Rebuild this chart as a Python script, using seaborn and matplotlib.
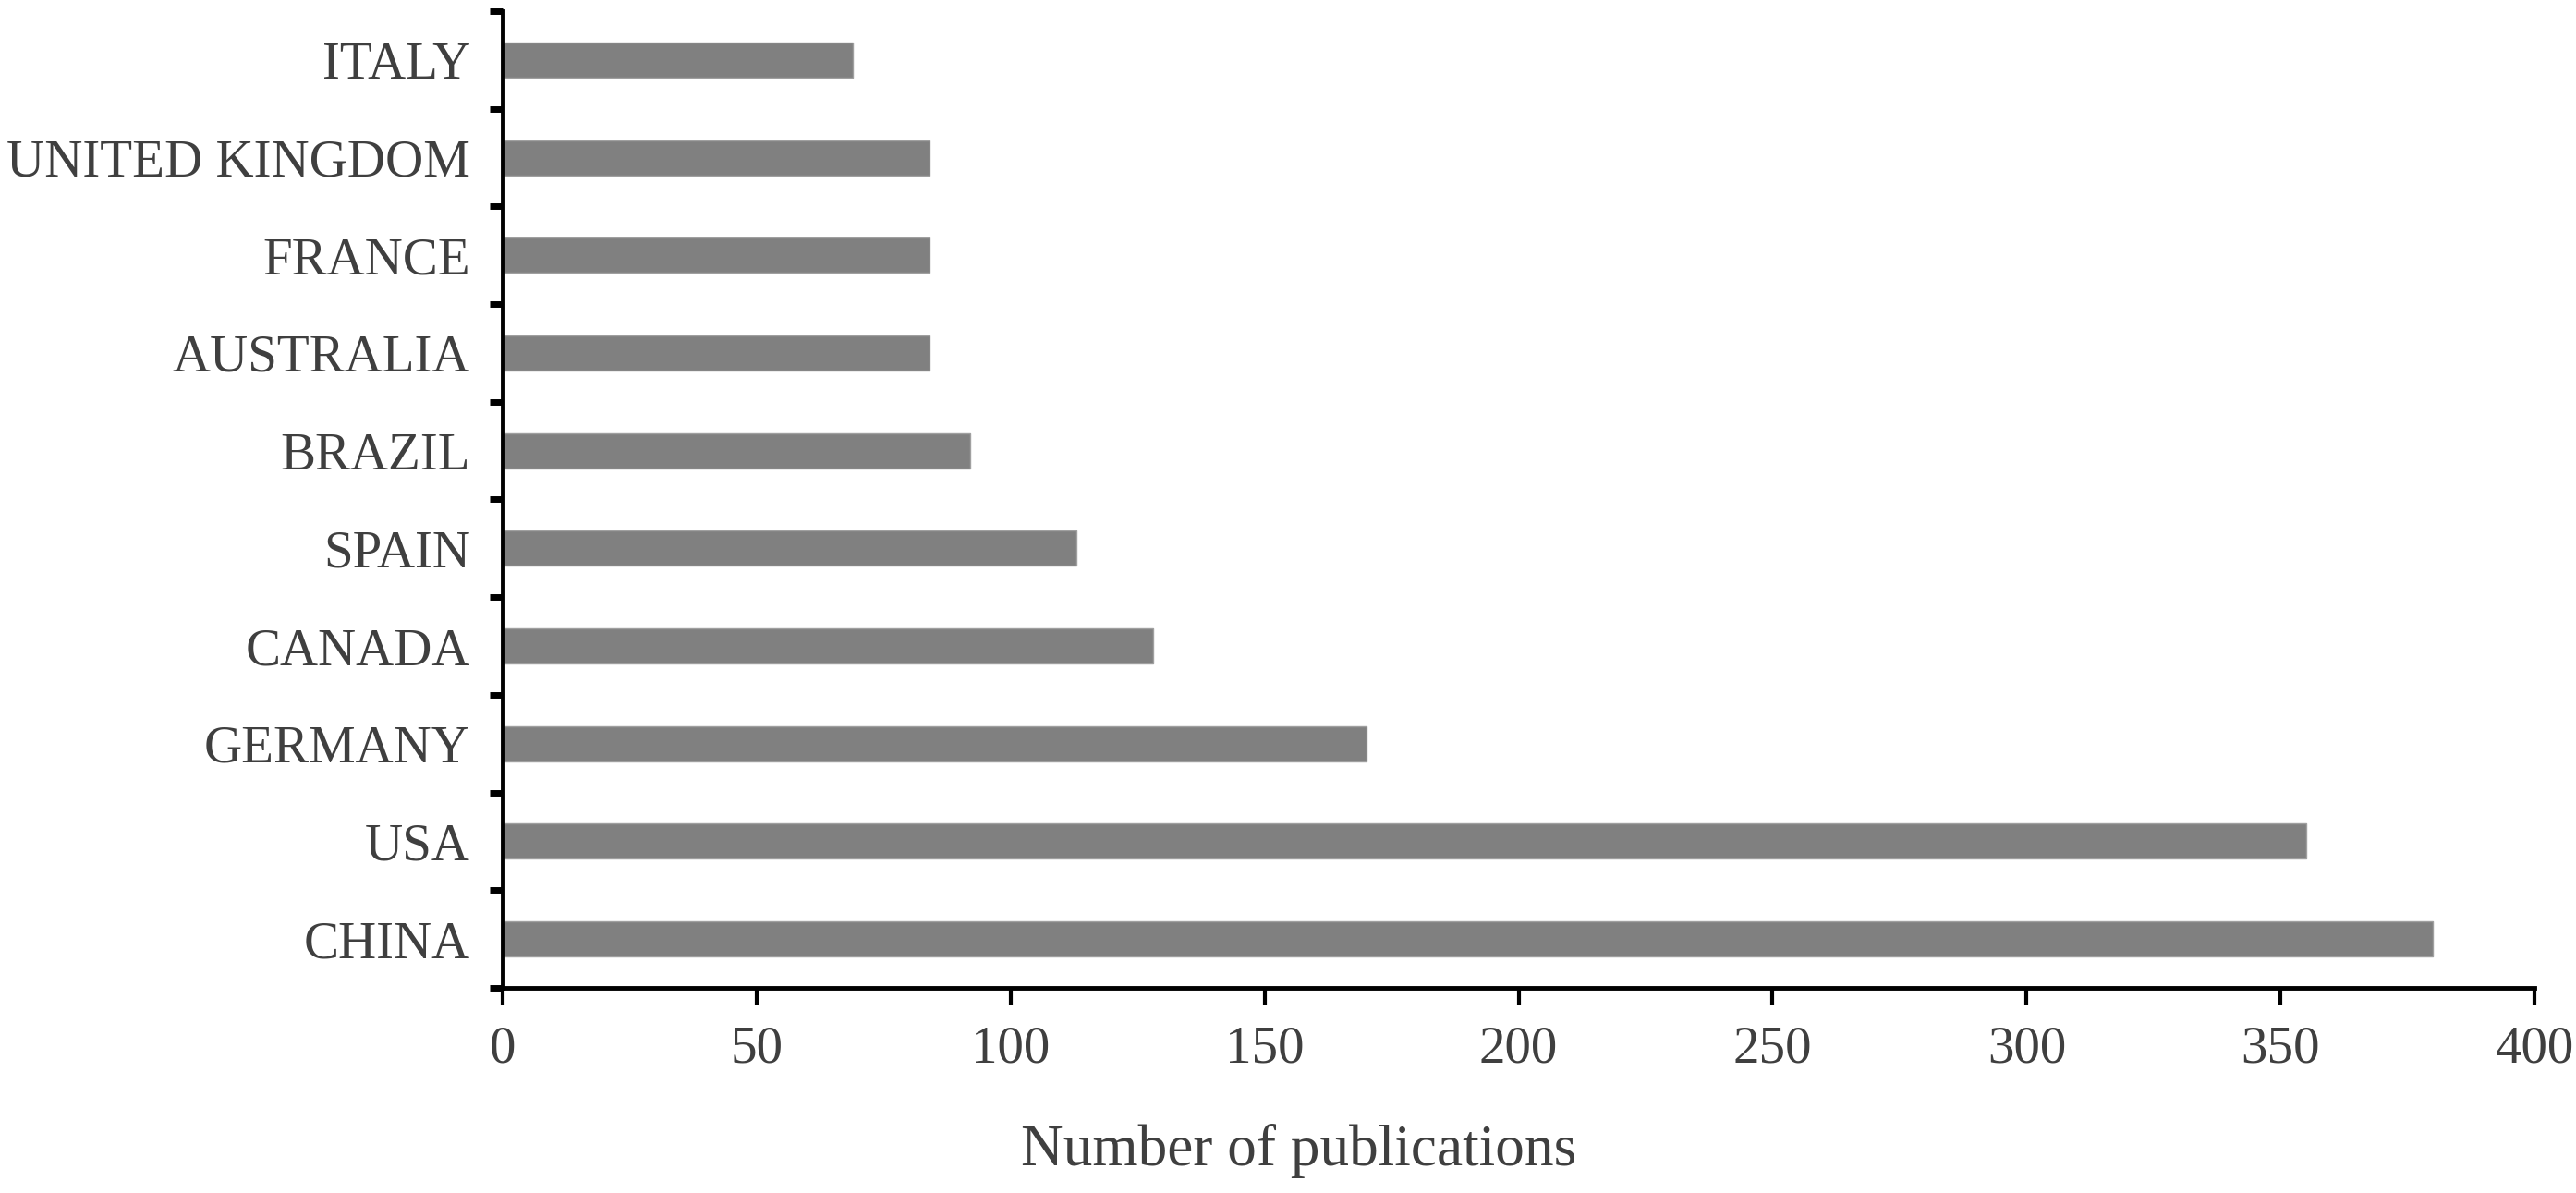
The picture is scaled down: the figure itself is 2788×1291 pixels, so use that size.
import matplotlib
matplotlib.use("Agg")
import matplotlib.pyplot as plt
import seaborn as sns
import pandas as pd
import numpy as np

countries = ["ITALY", "UNITED KINGDOM", "FRANCE", "AUSTRALIA", "BRAZIL",
             "SPAIN", "CANADA", "GERMANY", "USA", "CHINA"]
publications = [69, 84, 84, 84, 92, 113, 128, 170, 355, 380]
x_ticks = [0, 50, 100, 150, 200, 250, 300, 350, 400]

df = pd.DataFrame({"country": countries, "n": publications})

sns.set_style("white")
plt.rcParams["font.family"] = ["Liberation Serif", "DejaVu Serif"]

fig = plt.figure(figsize=(27.88, 12.91), dpi=100)
ax = fig.add_axes([0.195, 0.172, 0.789, 0.8187])

sns.barplot(data=df, x="n", y="country", order=countries, orient="h",
            color="#808080", saturation=1, width=0.36,
            edgecolor="#a0a0a0", linewidth=1, ax=ax)

ax.set_xlim(0, 400)
ax.set_ylim(len(countries) - 0.5, -0.5)
ax.set_xticks(x_ticks)
ax.set_xticklabels([str(t) for t in x_ticks])

txt = "#3f3f3f"
ax.tick_params(axis="x", which="major", direction="out", length=14, width=3,
               color="black", labelsize=41, labelcolor=txt, pad=15, bottom=True)
ax.tick_params(axis="y", which="major", length=0, labelsize=41,
               labelcolor=txt, pad=25, left=False)
ax.set_yticks(np.arange(-0.5, len(countries) + 0.5, 1), minor=True)
ax.tick_params(axis="y", which="minor", direction="out", length=10, width=5,
               color="black", left=True)

for s in ["top", "right"]:
    ax.spines[s].set_visible(False)
for s in ["left", "bottom"]:
    ax.spines[s].set_visible(True)
    ax.spines[s].set_color("black")
    ax.spines[s].set_linewidth(3.5)

ax.set_ylabel("")
ax.set_xlabel("Number of publications", fontsize=45.5, color=txt)
ax.xaxis.set_label_coords(0.392, -0.167)
ax.xaxis.label.set_verticalalignment("center")

fig.savefig("out.png", dpi=100, facecolor="white")
